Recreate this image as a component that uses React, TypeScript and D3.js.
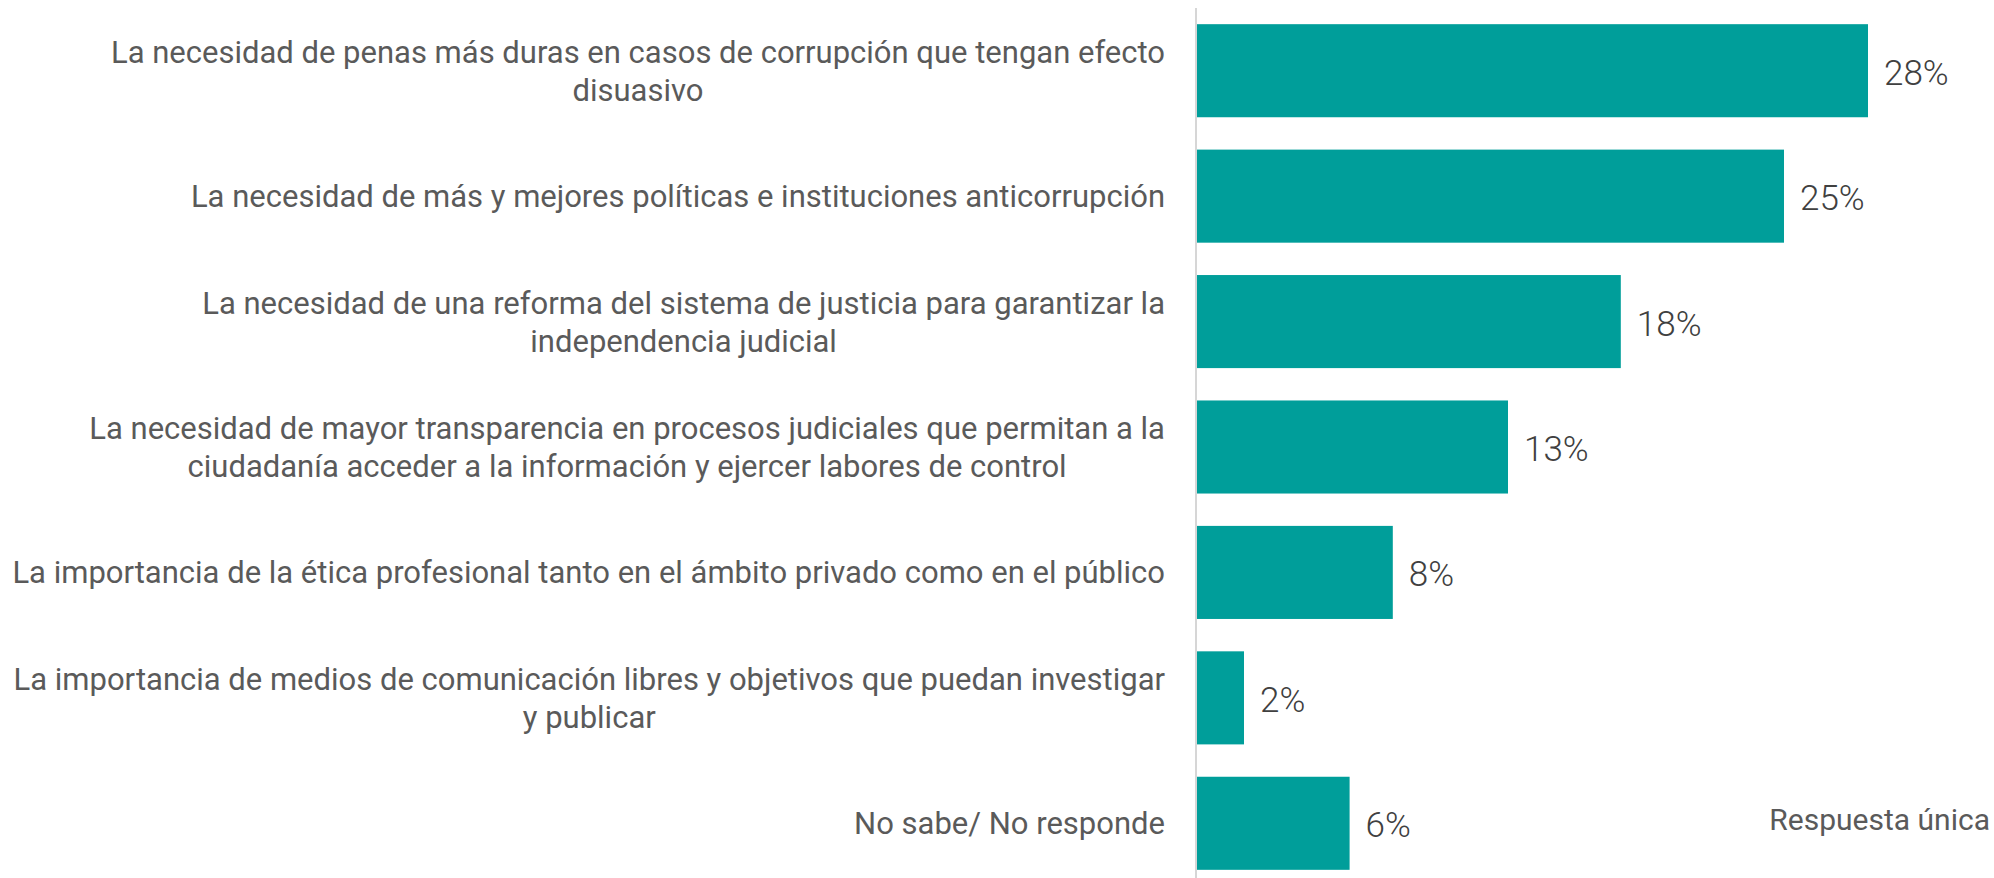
import React, { useEffect, useRef } from 'react';
import * as d3 from 'd3';

// categories (already wrapped the way the original shows them)
const categories = [
    ['La necesidad de penas más duras en casos de corrupción que tengan efecto', 'disuasivo'],
    ['La necesidad de más y mejores políticas e instituciones anticorrupción'],
    ['La necesidad de una reforma del sistema de justicia para garantizar la', 'independencia judicial'],
    ['La necesidad de mayor transparencia en procesos judiciales que permitan a la', 'ciudadanía acceder a la información y ejercer labores de control'],
    ['La importancia de la ética profesional tanto en el ámbito privado como en el público'],
    ['La importancia de medios de comunicación libres y objetivos que puedan investigar', 'y publicar'],
    ['No sabe/ No responde'],
];

// bar values in percent
const values = [28.0, 24.5, 17.7, 13.0, 8.2, 2.0, 6.4];

// value labels as printed
const valueLabels = ['28%', '25%', '18%', '13%', '8%', '2%', '6%'];

const note = 'Respuesta única';

const App = () => {
    const ref = useRef(null);

    const width = 1994;
    const height = 878;
    const axisX = 1196;
    const labelRight = 1165;
    const barColor = '#009E9A';
    const fontFamily = 'Roboto, sans-serif';

    const createChart = () => {
        const svg = d3.select(ref.current);
        svg.selectAll('*').remove();

        const keys = categories.map((c, i) => `c${i}`);

        const yScale = d3.scaleBand()
            .domain(keys)
            .range([8, 886])
            .paddingInner(0.258)
            .paddingOuter(0.129);

        const xScale = d3.scaleLinear()
            .domain([0, 30])
            .range([axisX, axisX + 720]);

        // bars
        svg.append('g')
            .selectAll('rect')
            .data(values)
            .join('rect')
            .attr('x', xScale(0) + 1)
            .attr('y', (d, i) => yScale(keys[i]))
            .attr('width', (d) => xScale(d) - xScale(0) - 1)
            .attr('height', yScale.bandwidth())
            .attr('fill', barColor);

        // vertical axis line
        svg.append('line')
            .attr('x1', axisX)
            .attr('x2', axisX)
            .attr('y1', 8)
            .attr('y2', height)
            .attr('stroke', '#d6d6d6')
            .attr('stroke-width', 2);

        // value labels
        svg.append('g')
            .selectAll('text')
            .data(values)
            .join('text')
            .attr('x', (d) => xScale(d) + 16)
            .attr('y', (d, i) => yScale(keys[i]) + yScale.bandwidth() / 2 + 14)
            .attr('fill', '#404040')
            .style('font-family', fontFamily)
            .style('font-size', '35px')
            .style('font-weight', 300)
            .text((d, i) => valueLabels[i]);

        // category labels, centred block with right edge at labelRight
        const lineGap = 38;
        const labelGroup = svg.append('g')
            .style('font-family', fontFamily)
            .style('font-size', '31px')
            .attr('fill', '#5a5a5a');

        categories.forEach((lines, i) => {
            const cy = yScale(keys[i]) + yScale.bandwidth() / 2;
            const texts = lines.map((line, j) => labelGroup.append('text')
                .attr('y', cy + 11 + (j - (lines.length - 1) / 2) * lineGap)
                .style('text-anchor', 'middle')
                .text(line));
            const widths = texts.map((t) => t.node().getComputedTextLength());
            const blockWidth = d3.max(widths);
            texts.forEach((t) => t.attr('x', labelRight - blockWidth / 2));
        });

        // note at the bottom right
        svg.append('text')
            .attr('x', 1990)
            .attr('y', 830)
            .style('text-anchor', 'end')
            .style('font-family', fontFamily)
            .style('font-size', '30px')
            .attr('fill', '#5a5a5a')
            .text(note);
    };

    useEffect(() => {
        document.body.style.margin = '0';
        createChart();
    }, []);

    return (
        <svg ref={ref} width={width} height={height} style={{ display: 'block', background: '#fff' }} />
    );
};

export default App;
